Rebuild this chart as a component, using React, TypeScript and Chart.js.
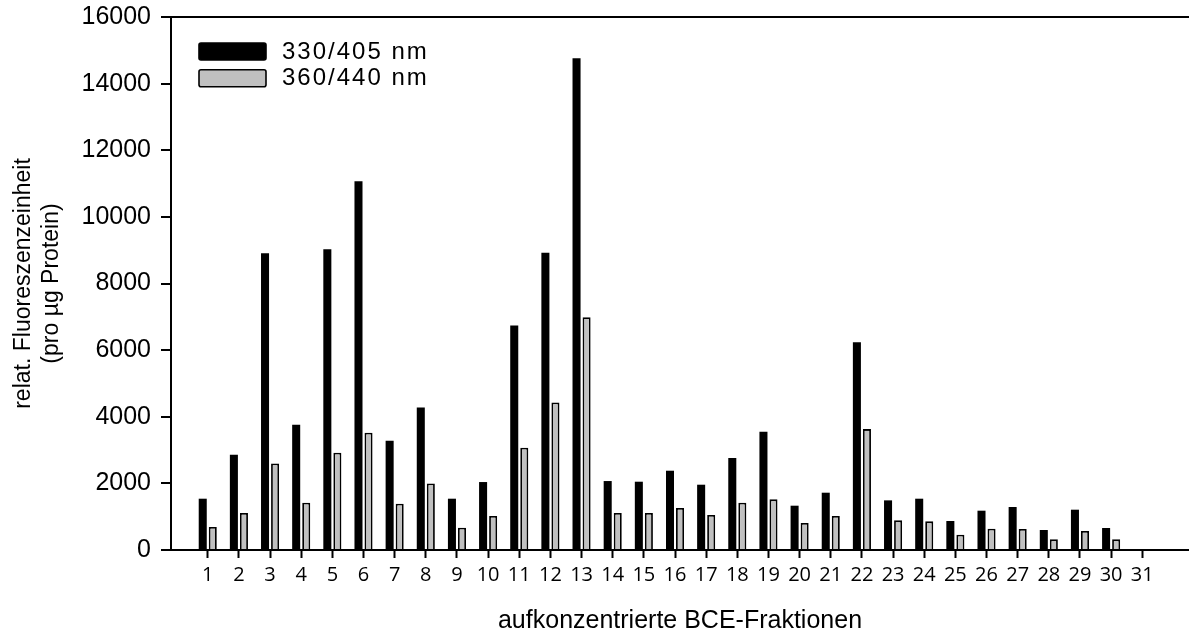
import React, { useEffect, useRef } from 'react';
import { Chart, registerables } from 'chart.js';

Chart.register(...registerables);

// ---- data ----
const categories = [
  1, 2, 3, 4, 5, 6, 7, 8, 9, 10, 11, 12, 13, 14, 15, 16, 17, 18, 19, 20,
  21, 22, 23, 24, 25, 26, 27, 28, 29, 30, 31,
];
const series330 = [
  1540, 2860, 8910, 3760, 9030, 11070, 3280, 4280, 1540, 2040,
  6740, 8920, 14760, 2070, 2050, 2380, 1960, 2760, 3550, 1330,
  1720, 6240, 1490, 1540, 870, 1180, 1290, 600, 1210, 660, null,
];
const series360 = [
  690, 1110, 2600, 1420, 2920, 3520, 1390, 2000, 670, 1020,
  3070, 4430, 6990, 1110, 1110, 1260, 1050, 1420, 1520, 810,
  1020, 3630, 890, 860, 460, 640, 630, 320, 570, 320, null,
];
const seriesLabels = ['330/405 nm', '360/440 nm'];
const yTickValues = [0, 2000, 4000, 6000, 8000, 10000, 12000, 14000, 16000];
const xTitle = 'aufkonzentrierte BCE-Fraktionen';
const yTitle = ['relat. Fluoreszenzeinheit', '(pro µg Protein)'];

const insideLegend = {
  id: 'insideLegend',
  afterDraw(chart: any) {
    const { ctx, chartArea } = chart;
    ctx.save();
    chart.data.datasets.forEach((ds: any, i: number) => {
      const x = chartArea.left + 28;
      const y = chartArea.top + 26 + i * 26.7;
      ctx.fillStyle = ds.backgroundColor;
      ctx.strokeStyle = '#000';
      ctx.lineWidth = 1.6;
      ctx.beginPath();
      if (ctx.roundRect) ctx.roundRect(x, y, 67, 17, 2);
      else ctx.rect(x, y, 67, 17);
      ctx.fill();
      ctx.stroke();
      ctx.font = '24px "Liberation Sans", Arial, sans-serif';
      try { ctx.letterSpacing = '2px'; } catch (e) { /* ignore */ }
      ctx.fillStyle = '#000';
      ctx.textBaseline = 'middle';
      ctx.textAlign = 'left';
      ctx.fillText(ds.label, x + 83, y + 9);
    });
    ctx.restore();
  },
};

export default function App() {
  const canvasRef = useRef<HTMLCanvasElement | null>(null);

  useEffect(() => {
    const canvas = canvasRef.current;
    if (!canvas) return;
    const chart = new Chart(canvas, {
      type: 'bar',
      data: {
        datasets: [
          {
            label: seriesLabels[0],
            data: categories.map((c, i) => ({ x: c, y: series330[i] })) as any,
            backgroundColor: '#000000',
            borderColor: '#000000',
            borderWidth: 0,
          },
          {
            label: seriesLabels[1],
            data: categories.map((c, i) => ({ x: c, y: series360[i] })) as any,
            backgroundColor: '#c0c0c0',
            borderColor: '#000000',
            borderWidth: 1.8,
          },
        ],
      },
      options: {
        animation: false,
        responsive: false,
        maintainAspectRatio: false,
        layout: { padding: { top: 17, left: 0, right: 0, bottom: 0 } },
        datasets: {
          bar: { categoryPercentage: 0.645, barPercentage: 0.8 },
        } as any,
        plugins: {
          legend: { display: false },
          tooltip: { enabled: false },
        },
        scales: {
          x: {
            type: 'linear',
            min: -0.18,
            max: 32.5,
            offset: false,
            afterBuildTicks: (scale: any) => {
              scale.ticks = categories.map((v) => ({ value: v }));
            },
            afterFit: (scale: any) => {
              scale.height = 86;
              scale.paddingLeft = 0;
              scale.paddingRight = 0;
            },
            border: { display: true, color: '#000', width: 2 },
            grid: {
              offset: false,
              drawOnChartArea: false,
              drawTicks: true,
              tickLength: 8,
              tickWidth: 2,
              tickColor: '#000',
            },
            ticks: {
              color: '#000',
              padding: 5,
              autoSkip: false,
              maxRotation: 0,
              font: { family: '"Open Sans", sans-serif', size: 20 },
              callback: (v: any) => String(v),
            },
            title: {
              display: true,
              text: xTitle,
              color: '#000',
              font: { family: '"Liberation Sans", Arial, sans-serif', size: 25, lineHeight: 1.2 },
              padding: { top: 0, bottom: 0 },
            },
          },
          y: {
            min: 0,
            max: 16000,
            afterBuildTicks: (scale: any) => {
              scale.ticks = yTickValues.map((v) => ({ value: v }));
            },
            afterFit: (scale: any) => {
              scale.width = 171;
              scale.paddingTop = 0;
              scale.paddingBottom = 0;
            },
            border: { display: true, color: '#000', width: 2 },
            grid: {
              drawOnChartArea: true,
              drawTicks: true,
              tickLength: 10,
              tickWidth: 2,
              tickColor: '#000',
              lineWidth: 2,
              color: (ctx: any) =>
                ctx.tick && ctx.tick.value === 16000 ? '#000' : 'rgba(0,0,0,0)',
            },
            ticks: {
              color: '#000',
              padding: 10,
              font: { family: '"Liberation Sans", Arial, sans-serif', size: 25 },
              callback: (v: any) => String(v),
            },
            title: {
              display: true,
              text: yTitle,
              color: '#000',
              font: { family: '"Liberation Sans", Arial, sans-serif', size: 23, lineHeight: 1.25 },
              padding: { top: 9, bottom: 10 },
            },
          },
        },
      },
      plugins: [insideLegend],
    });
    return () => chart.destroy();
  }, []);

  return (
    <div style={{ position: 'fixed', left: 0, top: 0, width: 1189, height: 636, background: '#fff' }}>
      <canvas ref={canvasRef} width={1189} height={636} style={{ display: 'block' }} />
    </div>
  );
}
